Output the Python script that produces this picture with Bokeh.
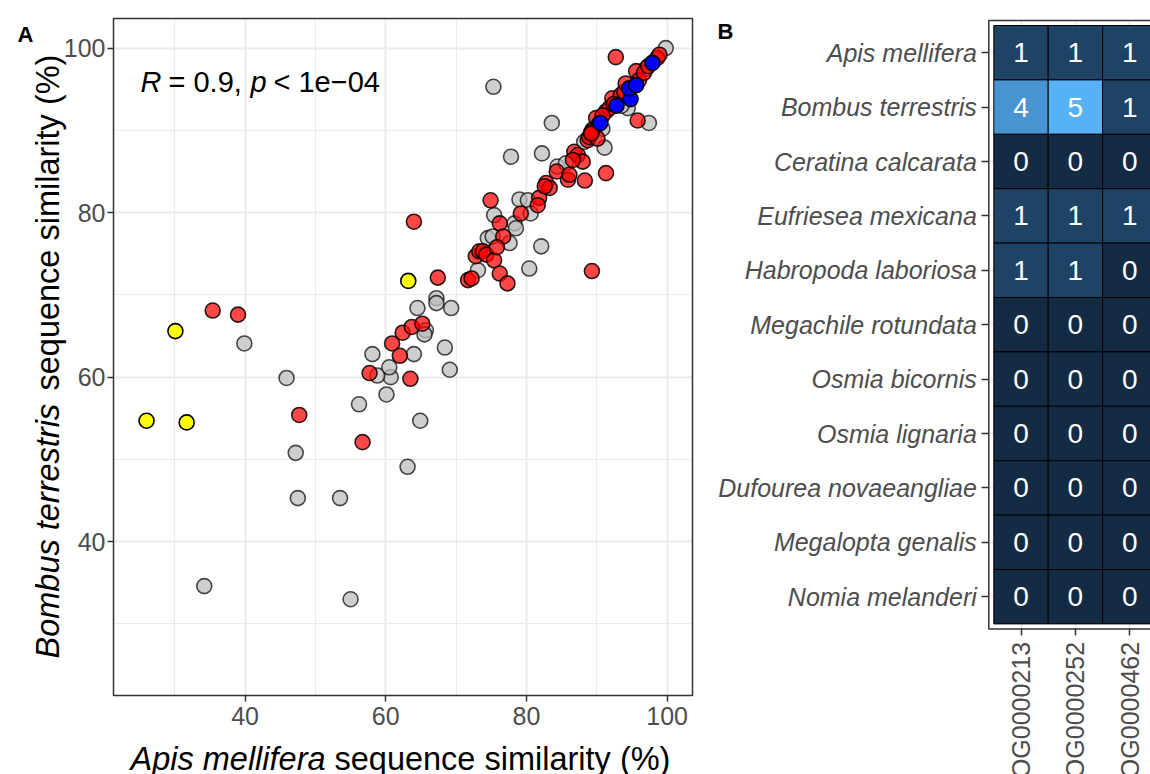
import math
from bokeh.plotting import figure
from bokeh.models import Range1d, FixedTicker, Label, ColumnDataSource, LinearAxis, Grid
from bokeh.embed import file_html
from bokeh.resources import INLINE
from bokeh.core.properties import value

FONT = "Liberation Sans"

# ---------------- data: panel A ----------------
gray_x = [34.2, 55.0, 39.9, 45.9, 47.2, 47.5, 53.5, 56.2, 64.9, 63.1, 60.1, 60.7, 58.8, 69.1,
          58.1, 60.5, 64.0, 68.4, 65.7, 65.5, 64.5, 67.2, 67.2, 69.3, 75.3, 83.6, 77.8, 82.2,
          84.4, 85.6, 79.0, 80.2, 80.6, 75.4, 78.3, 78.5, 74.5, 75.2, 77.6, 82.1, 80.4, 88.2,
          91.1, 94.4, 97.4, 99.8, 73.1, 97.0, 93.5, 90.8]
gray_y = [34.6, 33.0, 64.1, 59.9, 50.8, 45.3, 45.3, 56.7, 54.7, 49.1, 57.9, 60.0, 60.2, 60.9,
          62.8, 61.2, 62.8, 63.6, 65.7, 65.2, 68.4, 69.6, 69.0, 68.4, 95.3, 90.9, 86.8, 87.2,
          85.6, 86.0, 81.6, 81.5, 79.9, 79.7, 78.7, 78.1, 76.9, 77.1, 76.3, 75.9, 73.2, 88.6,
          87.9, 92.7, 90.9, 100.0, 73.0, 97.5, 93.0, 90.2]

red_x = [35.4, 39.0, 47.7, 56.7, 57.7, 63.5, 60.9, 62.4, 62.0, 63.7, 65.2, 64.0, 67.4, 71.7,
         72.2, 72.8, 73.3, 73.8, 74.3, 75.4, 74.9, 76.2, 76.7, 75.8, 76.2, 77.3, 79.2, 81.8,
         81.6, 82.8, 83.3, 84.3, 85.9, 86.1, 86.8, 87.3, 88.0, 86.6, 88.3, 89.3, 91.3, 88.7,
         88.9, 90.1, 89.4, 89.9, 91.3, 91.8, 92.2, 93.4, 93.9, 95.8, 92.7, 95.6, 96.0, 96.7,
         98.6, 98.9, 90.8, 94.1, 97.3, 92.4, 90.3, 89.2, 89.2, 82.6]
red_y = [68.1, 67.6, 55.4, 52.1, 60.5, 59.8, 64.1, 65.4, 62.6, 66.1, 66.5, 78.9, 72.1, 71.8,
         72.0, 74.7, 75.3, 75.3, 74.9, 74.2, 81.5, 78.7, 77.1, 75.8, 72.6, 71.4, 79.9, 81.8,
         80.9, 83.6, 83.0, 85.0, 84.0, 84.6, 87.4, 87.0, 86.2, 86.4, 83.9, 72.9, 84.8, 88.8,
         89.2, 89.0, 90.1, 91.5, 92.3, 92.7, 93.9, 94.3, 94.7, 91.2, 98.9, 97.2, 96.1, 97.0,
         98.8, 99.2, 91.8, 95.7, 97.8, 93.2, 90.8, 89.8, 89.6, 83.2]

yellow_x = [26.0, 30.1, 31.7, 63.2]
yellow_y = [54.7, 65.6, 54.5, 71.7]

blue_x = [90.5, 92.8, 94.8, 94.6, 95.6, 97.9]
blue_y = [90.9, 93.0, 93.8, 95.1, 95.5, 98.2]

x_ticks = [40, 60, 80, 100]
x_minor = [30, 50, 70, 90]
y_ticks = [40, 60, 80, 100]
y_minor = [30, 50, 70, 90]
x_limits = (21.3, 103.6)
y_limits = (21.3, 103.6)

# ---------------- data: panel B ----------------
species = ["Apis mellifera", "Bombus terrestris", "Ceratina calcarata", "Eufriesea mexicana",
           "Habropoda laboriosa", "Megachile rotundata", "Osmia bicornis", "Osmia lignaria",
           "Dufourea novaeangliae", "Megalopta genalis", "Nomia melanderi"]
orthogroups = ["OG0000213", "OG0000252", "OG0000462"]
counts = [
    [1, 1, 1],
    [4, 5, 1],
    [0, 0, 0],
    [1, 1, 1],
    [1, 1, 0],
    [0, 0, 0],
    [0, 0, 0],
    [0, 0, 0],
    [0, 0, 0],
    [0, 0, 0],
    [0, 0, 0],
]

# ---------------- colour helpers (ggplot gradient interpolated in Lab) ----------------
def _lin(c):
    c = c / 255.0
    return c / 12.92 if c <= 0.04045 else ((c + 0.055) / 1.055) ** 2.4

def _delin(c):
    c = 12.92 * c if c <= 0.0031308 else 1.055 * max(c, 0) ** (1 / 2.4) - 0.055
    return max(0, min(255, round(c * 255)))

def hex2lab(h):
    r, g, b = [_lin(int(h[i:i + 2], 16)) for i in (1, 3, 5)]
    X = (0.4124 * r + 0.3576 * g + 0.1805 * b) / 0.95047
    Y = (0.2126 * r + 0.7152 * g + 0.0722 * b)
    Z = (0.0193 * r + 0.1192 * g + 0.9505 * b) / 1.08883
    f = lambda t: t ** (1 / 3) if t > (6 / 29) ** 3 else t / (3 * (6 / 29) ** 2) + 4 / 29
    return (116 * f(Y) - 16, 500 * (f(X) - f(Y)), 200 * (f(Y) - f(Z)))

def lab2hex(L, a, b):
    fy = (L + 16) / 116
    fx = fy + a / 500
    fz = fy - b / 200
    fi = lambda t: t ** 3 if t > 6 / 29 else 3 * (6 / 29) ** 2 * (t - 4 / 29)
    X, Y, Z = fi(fx) * 0.95047, fi(fy), fi(fz) * 1.08883
    r = 3.2406 * X - 1.5372 * Y - 0.4986 * Z
    g = -0.9689 * X + 1.8758 * Y + 0.0415 * Z
    bb = 0.0557 * X - 0.2040 * Y + 1.0570 * Z
    return "#%02x%02x%02x" % (_delin(r), _delin(g), _delin(bb))

LOW, HIGH = hex2lab("#132B43"), hex2lab("#56B1F7")
vmax = max(max(r) for r in counts)

def fillcol(v):
    t = v / vmax
    return lab2hex(*[LOW[i] + (HIGH[i] - LOW[i]) * t for i in range(3)])

# ---------------- page geometry (pixels) ----------------
W, H = 1150, 774
# scatter panel box on the page
A_L, A_R, A_T, A_B = 113.0, 692.0, 18.0, 695.0
SX = (A_R - A_L) / (x_limits[1] - x_limits[0])
SY = (A_B - A_T) / (y_limits[1] - y_limits[0])

def dx(px):
    return x_limits[0] + (px - A_L) / SX

def dy(py):
    return y_limits[1] - (py - A_T) / SY

# heatmap tiles on the page
T_L, T_T, T_S = 993.3, 25.0, 54.4
PAD = 0.092  # discrete-scale padding (tile units)

def hx(px):
    return -0.5 + (px - T_L) / T_S

def hy(py):
    return (len(species) - 0.5) - (py - T_T) / T_S

p = figure(width=W, height=H, output_backend="svg", toolbar_location=None,
           x_range=Range1d(dx(0), dx(W)), y_range=Range1d(dy(H), dy(0)),
           x_axis_type=None, y_axis_type=None)
p.min_border_left = p.min_border_right = p.min_border_top = p.min_border_bottom = 0
p.outline_line_color = None
p.background_fill_color = "white"
p.border_fill_color = "white"
p.extra_x_ranges = {"hx": Range1d(hx(0), hx(W))}
p.extra_y_ranges = {"hy": Range1d(hy(H), hy(0))}

GRIDC = "#EBEBEB"
n = len(species)
HB = (-0.5 - PAD, n - 0.5 + PAD)          # heatmap box (y)
HBX = (-0.5 - PAD, len(orthogroups) - 0.5 + PAD)  # heatmap box (x)


def add_grid(dim, ticks, minor, cross, rng=None, major_w=2.0, minor_w=1.0):
    kw = dict(dimension=dim, ticker=FixedTicker(ticks=ticks, minor_ticks=minor),
              grid_line_color=GRIDC, grid_line_width=major_w,
              minor_grid_line_color=GRIDC if minor else None, minor_grid_line_width=minor_w)
    if rng:
        kw["x_range_name"], kw["y_range_name"] = rng
    try:
        g = Grid(cross_bounds=cross, **kw)
        p.add_layout(g)
    except Exception:
        rk = {} if not rng else dict(x_range_name=rng[0], y_range_name=rng[1])
        for t, w in [(t, major_w) for t in ticks] + [(t, minor_w) for t in minor]:
            if dim == 0:
                p.segment(t, cross[0], t, cross[1], line_color=GRIDC, line_width=w, **rk)
            else:
                p.segment(cross[0], t, cross[1], t, line_color=GRIDC, line_width=w, **rk)


# ---------- panel A ----------
add_grid(0, x_ticks, x_minor, y_limits)
add_grid(1, y_ticks, y_minor, x_limits)

p.scatter(gray_x, gray_y, size=15, fill_color="#BEBEBE", fill_alpha=0.75,
          line_color="black", line_alpha=0.7, line_width=1.6)
p.scatter(red_x, red_y, size=15, fill_color="red", fill_alpha=0.72,
          line_color="black", line_alpha=0.85, line_width=1.6)
p.scatter(yellow_x, yellow_y, size=15, fill_color="yellow", line_color="black", line_width=1.6)
p.scatter(blue_x, blue_y, size=15, fill_color="blue", line_color="black", line_width=1.6)

p.quad(left=x_limits[0], right=x_limits[1], bottom=y_limits[0], top=y_limits[1],
       fill_color=None, line_color="#333333", line_width=1.5)


def style_axis(ax, tick_out, standoff):
    ax.axis_line_color = None
    ax.major_tick_line_color = "#333333"
    ax.major_tick_line_width = 1.5
    ax.major_tick_out = tick_out
    ax.major_tick_in = 0
    ax.minor_tick_line_color = None
    ax.major_label_text_font = FONT
    ax.major_label_text_font_size = "25px"
    ax.major_label_text_color = "#4D4D4D"
    ax.major_label_standoff = standoff


xa = LinearAxis(ticker=FixedTicker(ticks=x_ticks), fixed_location=y_limits[0])
style_axis(xa, 6, 5)
p.add_layout(xa, "below")
ya = LinearAxis(ticker=FixedTicker(ticks=y_ticks), fixed_location=x_limits[0])
style_axis(ya, 6, 2)
p.add_layout(ya, "left")

# ---------- panel B ----------
HR = ("hx", "hy")
add_grid(0, list(range(len(orthogroups))), [], HB, rng=HR)
add_grid(1, list(range(n)), [], (HBX[0], HBX[1] + 1), rng=HR)

xs, ys, cols, txt = [], [], [], []
for i, sp in enumerate(species):
    for j, og in enumerate(orthogroups):
        xs.append(j)
        ys.append(n - 1 - i)
        cols.append(fillcol(counts[i][j]))
        txt.append(str(counts[i][j]))
src = ColumnDataSource(dict(x=xs, y=ys, c=cols, t=txt))
p.rect("x", "y", width=1, height=1, source=src, fill_color="c", line_color="black",
       line_width=1, x_range_name="hx", y_range_name="hy")
p.text("x", "y", text="t", source=src, text_color="white", text_font=value(FONT),
       text_font_size="28px", text_align="center", text_baseline="middle",
       x_range_name="hx", y_range_name="hy")
p.quad(left=HBX[0], right=HBX[1] + 1, bottom=HB[0], top=HB[1], fill_color=None,
       line_color="#333333", line_width=1.5, x_range_name="hx", y_range_name="hy")

hya = LinearAxis(x_range_name="hx", y_range_name="hy", fixed_location=HBX[0],
                 ticker=FixedTicker(ticks=list(range(n))))
hya.major_label_overrides = {n - 1 - i: sp for i, sp in enumerate(species)}
style_axis(hya, 7, 5)
hya.major_label_text_font_style = "italic"
p.add_layout(hya, "left")

hxa = LinearAxis(x_range_name="hx", y_range_name="hy", fixed_location=HB[0],
                 ticker=FixedTicker(ticks=list(range(len(orthogroups)))))
hxa.major_label_overrides = {j: og for j, og in enumerate(orthogroups)}
style_axis(hxa, 7, 6)
hxa.major_label_orientation = math.pi / 2
p.add_layout(hxa, "below")


# ---------- texts ----------
def add_label(x, y, text, size, style="normal", color="black", align="left",
              baseline="alphabetic", angle=0.0):
    p.add_layout(Label(x=x, y=y, text=text, text_font=FONT, text_font_size=size,
                       text_font_style=style, text_color=color, text_align=align,
                       text_baseline=baseline, angle=angle))


add_label(dx(17), dy(34), "A", "22px", style="bold")
add_label(dx(717), dy(31), "B", "22px", style="bold")
# correlation annotation
add_label(dx(140), dy(81.7), "R", "29px", style="italic")
add_label(dx(168), dy(81.7), "= 0.9,", "29px")
add_label(dx(250), dy(81.7), "p", "29px", style="italic")
add_label(dx(273), dy(81.7), "< 1e\u221204", "29px")
# x axis title
add_label(dx(130), dy(758), "Apis mellifera", "32.5px", style="italic")
add_label(dx(334), dy(758), "sequence similarity (%)", "32.5px")
# y axis title (rotated)
add_label(dx(47), dy(658), "Bombus terrestris", "32.5px", style="italic", angle=math.pi / 2)
add_label(dx(47), dy(390), "sequence similarity (%)", "32.5px", angle=math.pi / 2)

open("out.html", "w").write(file_html(p, INLINE))
